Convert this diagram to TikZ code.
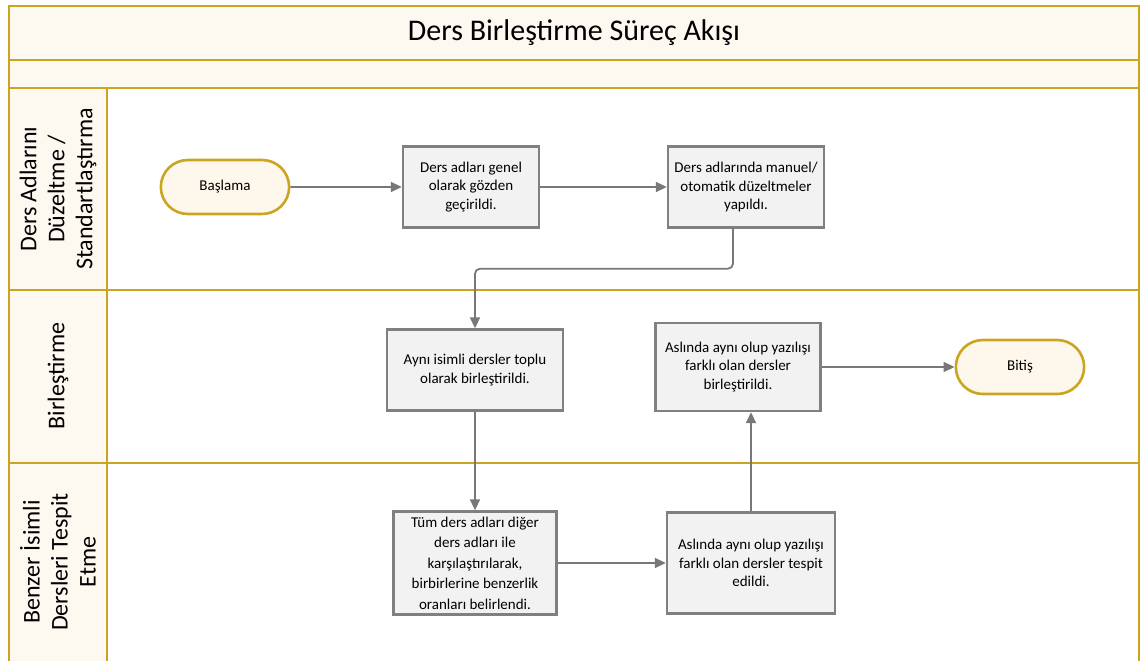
\documentclass[tikz,border=0pt]{standalone}
\usepackage{fontspec}
\setmainfont{Carlito}
\usepackage{xcolor}
\usetikzlibrary{arrows.meta,shapes.misc}

\definecolor{lanegold}{RGB}{203,164,32}
\definecolor{lanefill}{RGB}{253,248,240}
\definecolor{boxfill}{RGB}{242,242,242}
\definecolor{boxline}{RGB}{128,128,128}
\definecolor{termfill}{RGB}{254,248,236}
\definecolor{arrowgray}{RGB}{120,120,120}

\begin{document}
\begin{tikzpicture}[
  x=1pt, y=-1pt,
  every node/.style={font=\fontsize{15}{18.5}\selectfont},
  lane/.style={draw=lanegold, line width=2.6pt},
  lanelbl/.style={rotate=90, align=center, font=\fontsize{24}{28}\selectfont},
  proc/.style={draw=boxline, fill=boxfill, line width=2.4pt, align=center, inner sep=2pt},
  term/.style={rounded rectangle, draw=lanegold, fill=termfill, line width=2.6pt,
               minimum width=135pt, minimum height=54pt},
  arr/.style={-{Triangle[length=11pt, width=10pt]}, draw=arrowgray, line width=1.8pt}
]
\useasboundingbox (0,0) rectangle (1141,661);

% Frame and lanes
\fill[lanefill] (9,6) rectangle (1139,88);
\fill[lanefill] (9,88) rectangle (107,661);
\draw[lane] (9,661) -- (9,6) -- (1139,6) -- (1139,661);
\draw[lane] (9,60) -- (1139,60);
\draw[lane] (9,88) -- (1139,88);
\draw[lane] (9,290) -- (1139,290);
\draw[lane] (9,463) -- (1139,463);
\draw[lane] (107,88) -- (107,661);

\node[font=\fontsize{30}{34}\selectfont] (title) at (574,33) {Ders Birleştirme Süreç Akışı};

\node[lanelbl] (lane1) at (58,189) {Ders Adlarını\\Düzeltme /\\Standartlaştırma};
\node[lanelbl] (lane2) at (58,376) {Birleştirme};
\node[lanelbl] (lane3) at (58,562) {Benzer İsimli\\Dersleri Tespit\\Etme};

% Steps
\node[term] (start) at (225,187) {Başlama};
\node[proc, minimum width=136pt, minimum height=81pt] (review) at (471,187)
  {Ders adları genel\\olarak gözden\\geçirildi.};
\node[proc, minimum width=156pt, minimum height=81pt] (fix) at (746,187)
  {Ders adlarında manuel/\\otomatik düzeltmeler\\yapıldı.};
\node[proc, minimum width=176pt, minimum height=81pt] (merge) at (475,370)
  {Aynı isimli dersler toplu\\olarak birleştirildi.};
\node[proc, minimum width=165pt, minimum height=88pt] (mergesim) at (738,367)
  {Aslında aynı olup yazılışı\\farklı olan dersler\\birleştirildi.};
\node[term] (end) at (1020,367) {Bitiş};
\node[proc, minimum width=163pt, minimum height=103pt, font=\fontsize{15}{20.5}\selectfont] (compare) at (475,563)
  {Tüm ders adları diğer\\ders adları ile\\karşılaştırılarak,\\birbirlerine benzerlik\\oranları belirlendi.};
\node[proc, minimum width=168pt, minimum height=101pt] (detect) at (751,563)
  {Aslında aynı olup yazılışı\\farklı olan dersler tespit\\edildi.};

% Flow
\draw[arr] (start) -- (review);
\draw[arr] (review) -- (fix);
\draw[arr, rounded corners=5pt] ([xshift=-13pt]fix.south) -- ++(0,40) -| (merge.north);
\draw[arr] (merge) -- (compare);
\draw[arr] (compare) -- (detect);
\draw[arr] (detect.north) -- (detect.north |- mergesim.south);
\draw[arr] (mergesim) -- (end);
\end{tikzpicture}
\end{document}
